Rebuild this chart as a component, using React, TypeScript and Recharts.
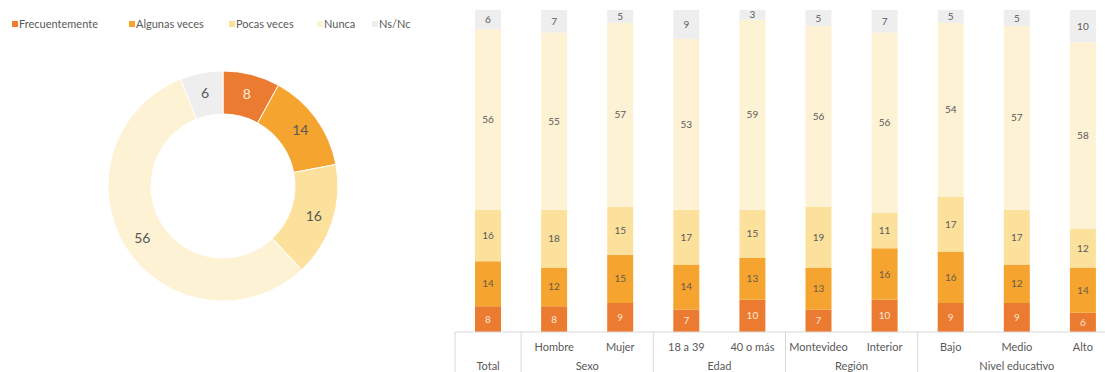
import { PieChart, Pie, Cell, BarChart, Bar, XAxis, YAxis, LabelList, Legend } from 'recharts';

const seriesNames = ['Frecuentemente', 'Algunas veces', 'Pocas veces', 'Nunca', 'Ns/Nc'];
const seriesKeys = ['frec', 'algunas', 'pocas', 'nunca', 'nsnc'];
const seriesColors = ['#EA7B30', '#F5A52F', '#FCE19D', '#FEF2D5', '#EEEEEE'];
const labelColors = ['#FBE6D6', '#6b5a45', '#595959', '#595959', '#595959'];

// donut: total
const totalValues = [8, 14, 16, 56, 6];

// bars
const categories = ['Total', 'Hombre', 'Mujer', '18 a 39', '40 o más', 'Montevideo', 'Interior', 'Bajo', 'Medio', 'Alto'];
const groups = ['Total', 'Sexo', 'Sexo', 'Edad', 'Edad', 'Región', 'Región', 'Nivel educativo', 'Nivel educativo', 'Nivel educativo'];
const frec = [8, 8, 9, 7, 10, 7, 10, 9, 9, 6];
const algunas = [14, 12, 15, 14, 13, 13, 16, 16, 12, 14];
const pocas = [16, 18, 15, 17, 15, 19, 11, 17, 17, 12];
const nunca = [56, 55, 57, 53, 59, 56, 56, 54, 57, 58];
const nsnc = [6, 7, 5, 9, 3, 5, 7, 5, 5, 10];

const FONT = 'Lato, "Open Sans", sans-serif';
const TEXT = '#595959';
const GRID = '#D9D9D9';

const pieData = seriesNames.map((name, i) => ({ name, value: totalValues[i] }));
const barData = categories.map((name, i) => ({
  name,
  frec: frec[i],
  algunas: algunas[i],
  pocas: pocas[i],
  nunca: nunca[i],
  nsnc: nsnc[i],
}));

const BAR_W = 666;
const BAR_MARGIN = { top: 10, right: 0, bottom: 10, left: 5 };
const BAND = (BAR_W - BAR_MARGIN.left - BAR_MARGIN.right) / categories.length;

const RADIAN = Math.PI / 180;

function PieLabel(props: any) {
  const { cx, cy, midAngle, innerRadius, outerRadius, value, index } = props;
  const r = (innerRadius + outerRadius) / 2 + 2;
  const x = cx + r * Math.cos(-midAngle * RADIAN);
  const y = cy + r * Math.sin(-midAngle * RADIAN);
  return (
    <text
      x={x}
      y={y}
      textAnchor="middle"
      dominantBaseline="central"
      fill={index === 0 ? '#FDEBDD' : TEXT}
      fontSize={14}
      fontFamily={FONT}
    >
      {value}
    </text>
  );
}

const legendWidths = [117, 100, 88, 55, 50];

function LegendContent() {
  return (
    <div style={{ display: 'flex', fontFamily: FONT, fontSize: 11, color: TEXT }}>
      {seriesNames.map((n, i) => (
        <div key={n} style={{ width: legendWidths[i], display: 'flex', alignItems: 'center' }}>
          <span
            style={{
              display: 'inline-block',
              width: 6,
              height: 6,
              background: seriesColors[i],
              marginRight: 1,
            }}
          />
          {n}
        </div>
      ))}
    </div>
  );
}

function CategoryTick(props: any) {
  const { x, y, index } = props;
  const left = x - BAND / 2;
  const isFirst = index === 0 || groups[index] !== groups[index - 1];
  let groupLabel = null;
  if (isFirst) {
    const count = groups.filter((g) => g === groups[index]).length;
    groupLabel = (
      <text x={left + (count * BAND) / 2} y={y + 30} textAnchor="middle" fill={TEXT} fontSize={11} fontFamily={FONT}>
        {groups[index]}
      </text>
    );
  }
  return (
    <g>
      {isFirst && <line x1={left} x2={left} y1={y - 8} y2={y + 40} stroke={GRID} strokeWidth={1} />}
      {index !== 0 && (
        <text x={x} y={y + 11} textAnchor="middle" fill={TEXT} fontSize={11} fontFamily={FONT}>
          {categories[index]}
        </text>
      )}
      {groupLabel}
    </g>
  );
}

export default function App() {
  return (
    <div
      style={{
        position: 'fixed',
        left: 0,
        top: 0,
        width: 1105,
        height: 372,
        overflow: 'hidden',
        background: '#fff',
      }}
    >
      <div style={{ position: 'absolute', left: 0, top: 0 }}>
        <PieChart width={450} height={372}>
          <Legend
            content={<LegendContent />}
            verticalAlign="top"
            align="left"
            wrapperStyle={{ top: 17, left: 12, width: 440 }}
          />
          <Pie
            data={pieData}
            dataKey="value"
            nameKey="name"
            cx={218}
            cy={168}
            innerRadius={72}
            outerRadius={115}
            startAngle={90}
            endAngle={-270}
            stroke="#fff"
            strokeWidth={1}
            label={PieLabel}
            labelLine={false}
            isAnimationActive={false}
          >
            {pieData.map((d, i) => (
              <Cell key={d.name} fill={seriesColors[i]} />
            ))}
          </Pie>
        </PieChart>
      </div>
      <div style={{ position: 'absolute', left: 450, top: 0 }}>
        <BarChart width={BAR_W} height={372} data={barData} margin={BAR_MARGIN} barSize={26}>
          <XAxis
            dataKey="name"
            height={30}
            axisLine={{ stroke: GRID }}
            tickLine={false}
            interval={0}
            tick={<CategoryTick />}
          />
          <YAxis hide domain={[0, 100]} allowDataOverflow />
          {seriesKeys.map((k, i) => (
            <Bar key={k} dataKey={k} name={seriesNames[i]} stackId="a" fill={seriesColors[i]} isAnimationActive={false}>
              <LabelList dataKey={k} position="center" fill={labelColors[i]} fontSize={10} fontFamily={FONT} />
            </Bar>
          ))}
        </BarChart>
      </div>
    </div>
  );
}
